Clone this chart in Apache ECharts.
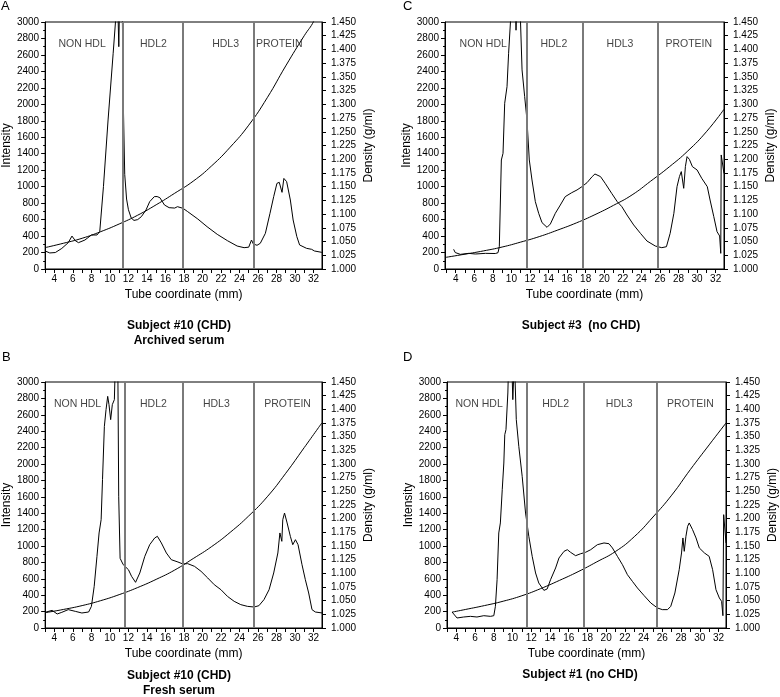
<!DOCTYPE html>
<html><head><meta charset="utf-8">
<script src="https://cdn.jsdelivr.net/npm/echarts@6/dist/echarts.min.js"></script>
<style>html,body{margin:0;padding:0;background:#fff}#c{width:780px;height:697px}</style>
</head><body><div id="c"></div>
<script>
// ---------- Panel A: Subject #10 (CHD), archived serum ----------
const aX = [3.0,3.5,4.1,4.8,5.5,5.9,6.25,6.6,7.3,8.0,8.6,8.9,9.3,9.8,10.35,10.6,10.75,10.85,10.96,11.05,11.2,11.32,11.45,11.6,11.8,12.0,12.3,12.6,13.0,13.4,13.9,14.3,14.8,15.1,15.4,15.9,16.4,17.0,17.3,17.9,18.4,19.5,20.5,21.6,22.7,23.75,24.5,25.0,25.3,25.5,25.9,26.25,26.8,27.3,27.7,28.05,28.3,28.6,28.8,29.1,29.5,29.8,30.2,30.5,31.25,31.8,32.0,32.1,32.9];
const aI = [219,195,200,250,320,400,345,320,352,413,413,453,1000,1810,2620,3000,3300,3200,2700,3300,3300,3300,2000,1150,850,720,620,590,600,636,717,818,879,880,866,777,745,740,757,737,697,607,514,421,344,279,259,265,352,304,288,312,433,676,879,1040,1053,931,1100,1061,838,595,393,292,251,239,263,219,202];
const aDX = [3,5,7,9,11,13,15,17,19,21,23,25,27,29,31,32.05,33];
const aD  = [1.039,1.047,1.056,1.068,1.082,1.098,1.117,1.138,1.160,1.188,1.222,1.262,1.312,1.370,1.425,1.452,1.49];
const aLines = [11.44,17.88,25.57];
const aLabelX = [7.0,14.7,22.5,28.3];

// ---------- Panel B: Subject #10 (CHD), fresh serum ----------
const bX = [3.0,3.75,4.3,4.8,5.5,6.26,6.97,7.7,8.0,8.3,8.6,8.83,9.05,9.2,9.4,9.58,9.76,9.9,10.08,10.26,10.48,10.6,10.85,10.95,11.1,11.44,12.0,12.34,12.77,13.23,13.77,14.3,14.84,15.13,15.56,16.1,16.63,17.35,17.9,18.4,19.14,19.85,20.57,21.28,22.0,22.7,23.43,24.14,24.86,25.58,26.1,26.65,27.2,27.7,28.15,28.37,28.58,28.68,28.87,29.15,29.5,29.76,30.05,30.33,30.76,31.12,31.48,31.84,32.2,32.95];
const bI = [191,215,171,191,224,203,183,195,264,508,874,1159,1321,1809,2459,2663,2825,2724,2541,2724,2785,3300,3300,1600,850,772,711,630,557,671,874,1016,1098,1118,1037,915,833,805,780,785,752,691,610,528,467,386,325,285,264,256,272,346,467,671,915,1159,1057,1321,1402,1281,1118,1016,1077,1016,772,589,427,224,195,183];
const bDX = [3,5,7,9,11,13,15,17,19,21,23,25,27,29,31,32.9];
const bD  = [1.028,1.034,1.041,1.050,1.061,1.074,1.089,1.106,1.127,1.149,1.175,1.205,1.240,1.283,1.330,1.375];
const bLines = [11.55,17.88,25.5];
const bLabelX = [6.5,14.7,21.5,29.2];

// ---------- Panel C: Subject #3 (no CHD) ----------
const cX = [3.78,3.95,4.14,4.5,5.4,6.12,7.2,8.27,8.56,8.7,8.92,9.1,9.28,9.53,9.7,9.9,10.1,10.42,10.5,10.6,10.9,11.1,11.15,11.43,11.68,11.93,12.22,12.58,12.94,13.3,13.84,14.2,14.73,15.27,15.8,16.5,17.07,17.6,18.15,18.7,19.0,19.6,20.1,20.8,21.4,21.9,22.45,23.17,23.9,24.6,25.5,26.2,26.7,27.1,27.5,27.84,28.1,28.3,28.56,28.74,28.92,29.17,29.5,30.0,30.5,31.1,31.4,31.8,32.15,32.43,32.55,32.6,32.9];
const cI = [239,200,190,178,190,182,190,188,198,271,1324,1405,2013,2215,2620,3000,3300,3300,2900,3300,3300,3300,2418,2094,1810,1324,1081,818,676,563,506,547,676,777,879,927,960,1000,1049,1122,1154,1122,1041,919,818,757,656,535,433,340,279,259,271,433,676,1000,1122,1183,980,1243,1365,1332,1243,1203,1102,1000,838,636,453,401,190,1385,1160];
const cDX = [2.85,5,7,9,11,13,15,17,19,21,23,25,27,29,31,32.9];
const cD  = [1.021,1.027,1.033,1.040,1.049,1.059,1.071,1.084,1.099,1.116,1.135,1.160,1.186,1.215,1.250,1.291];
const cLines = [11.7,17.72,25.72];
const cLabelX = [6.97,14.57,21.7,29.1];

// ---------- Panel D: Subject #1 (no CHD) ----------
const dX = [3.54,4.07,4.78,5.5,6.2,6.93,7.64,8.0,8.17,8.35,8.53,8.7,8.9,9.07,9.17,9.3,9.5,9.6,9.9,10.03,10.2,10.3,10.4,10.67,11.03,11.39,11.74,12.1,12.46,12.8,13.35,13.7,14.06,14.6,14.96,15.5,15.85,16.2,16.74,17.28,17.8,18.35,19.06,19.77,20.3,20.67,21.2,21.74,22.27,22.8,23.34,24.06,24.77,25.48,26.0,26.55,26.9,27.34,27.8,28.05,28.2,28.34,28.52,28.7,28.87,29.23,29.6,29.95,30.5,31.0,31.37,31.73,32.09,32.33,32.47,32.55,32.8];
const dI = [195,122,134,142,134,150,142,150,264,589,1159,1281,1687,2012,2358,2419,2866,3300,3300,2785,3300,3300,2541,2215,1850,1402,1118,874,671,549,459,476,589,732,854,935,955,923,882,906,923,955,1016,1037,1028,976,874,772,650,569,488,394,305,244,224,224,264,427,711,915,1098,935,1118,1240,1281,1199,1098,976,915,874,711,467,366,325,150,1382,1037];
const dDX = [3.54,5,7,9,11,13,15,17,19,21,23,25,27,29,31,32.8];
const dD  = [1.029,1.034,1.041,1.049,1.059,1.072,1.087,1.103,1.121,1.140,1.167,1.203,1.243,1.290,1.335,1.375];
const dLines = [11.49,17.56,25.41];
const dLabelX = [6.43,14.6,21.4,29.0];

const regionNames = ['NON HDL','HDL2','HDL3','PROTEIN'];
const regionLabelY = 2730;
const xTickVals = [3,4,5,6,7,8,9,10,11,12,13,14,15,16,17,18,19,20,21,22,23,24,25,26,27,28,29,30,31,32,33];
const xLabelVals = [4,6,8,10,12,14,16,18,20,22,24,26,28,30,32];

const panels = [
  {x:aX,i:aI,dx:aDX,d:aD,lines:aLines,lx:aLabelX,xmin:3,xmax:32.92,grid:{left:43,top:22,width:279,height:247}},
  {x:cX,i:cI,dx:cDX,d:cD,lines:cLines,lx:cLabelX,xmin:2.85,xmax:32.9,grid:{left:445,top:22,width:279,height:247}},
  {x:bX,i:bI,dx:bDX,d:bD,lines:bLines,lx:bLabelX,xmin:3,xmax:32.92,grid:{left:43,top:382,width:279,height:246}},
  {x:dX,i:dI,dx:dDX,d:dD,lines:dLines,lx:dLabelX,xmin:3,xmax:32.8,grid:{left:447,top:382,width:279,height:246}}
];

const FONT = 'Liberation Sans, Arial, sans-serif';
const zip = (a,b) => a.map((v,k)=>[v,b[k]]);

const grid=[], xAxis=[], yAxis=[], series=[];
panels.forEach((p,g)=>{
  grid.push(Object.assign({show:true,borderColor:'#000',borderWidth:1,containLabel:false},p.grid));
  xAxis.push({
    gridIndex:g,type:'value',min:p.xmin,max:p.xmax,
    name:'Tube coordinate (mm)',nameLocation:'middle',nameGap:20,
    nameTextStyle:{fontFamily:FONT,fontSize:12,color:'#000'},
    axisLine:{show:true,lineStyle:{color:'#000',width:1}},
    axisTick:{show:true,customValues:xTickVals.filter(v=>v>=p.xmin&&v<=p.xmax),length:4,lineStyle:{color:'#000'}},
    axisLabel:{customValues:xLabelVals,fontFamily:FONT,fontSize:10,color:'#000',margin:5},
    splitLine:{show:false}
  });
  yAxis.push({
    gridIndex:g,type:'value',min:0,max:3000,interval:200,position:'left',
    name:'Intensity',nameLocation:'middle',nameGap:30,
    nameTextStyle:{fontFamily:FONT,fontSize:12,color:'#000'},
    axisLine:{show:true,lineStyle:{color:'#000',width:1}},
    axisTick:{show:true,length:4,lineStyle:{color:'#000'}},
    minorTick:{show:true,splitNumber:2,length:2,lineStyle:{color:'#000'}},
    axisLabel:{fontFamily:FONT,fontSize:10,color:'#000',margin:6,formatter:v=>String(v)},
    splitLine:{show:false}
  });
  yAxis.push({
    gridIndex:g,type:'value',min:1,max:1.45,interval:0.025,position:'right',
    name:'Density (g/ml)',nameLocation:'middle',nameGap:41,
    nameTextStyle:{fontFamily:FONT,fontSize:12,color:'#000'},
    axisLine:{show:true,lineStyle:{color:'#000',width:1}},
    axisTick:{show:true,length:4,lineStyle:{color:'#000'}},
    axisLabel:{fontFamily:FONT,fontSize:10,color:'#000',margin:9,formatter:v=>v.toFixed(3)},
    splitLine:{show:false}
  });
  series.push({
    type:'line',xAxisIndex:g,yAxisIndex:2*g,data:zip(p.x,p.i),
    showSymbol:false,symbol:'none',lineStyle:{color:'#000',width:1},clip:true,z:3,
    markLine:{silent:true,symbol:'none',label:{show:false},
      lineStyle:{color:'#7a7a7a',width:2,type:'solid'},
      data:p.lines.map(v=>({xAxis:v}))}
  });
  series.push({
    type:'line',xAxisIndex:g,yAxisIndex:2*g+1,data:zip(p.dx,p.d),smooth:true,
    showSymbol:false,symbol:'none',lineStyle:{color:'#000',width:1},clip:true,z:4
  });
  series.push({
    type:'scatter',xAxisIndex:g,yAxisIndex:2*g,symbolSize:0,silent:true,z:5,
    data:p.lx.map((v,k)=>({name:regionNames[k],value:[v,regionLabelY]})),
    label:{show:true,position:'inside',formatter:'{b}',fontFamily:FONT,fontSize:10.5,color:'#111'}
  });
});

const tStyle = {fontFamily:FONT,fontSize:12,fontWeight:'bold',color:'#000',lineHeight:15};
const lStyle = {fontFamily:FONT,fontSize:13,fontWeight:'normal',color:'#000'};
const title = [
  {text:'A',left:1,top:0,textStyle:lStyle,padding:0},
  {text:'C',left:403,top:0,textStyle:lStyle,padding:0},
  {text:'B',left:2,top:351,textStyle:lStyle,padding:0},
  {text:'D',left:403,top:351,textStyle:lStyle,padding:0},
  {text:'Subject #10 (CHD)\nArchived serum',left:179,top:318,textAlign:'center',textStyle:Object.assign({align:'center'},tStyle),padding:0},
  {text:'Subject #3  (no CHD)',left:581,top:318,textAlign:'center',textStyle:tStyle,padding:0},
  {text:'Subject #10 (CHD)\nFresh serum',left:179,top:668,textAlign:'center',textStyle:Object.assign({align:'center'},tStyle),padding:0},
  {text:'Subject #1 (no CHD)',left:580,top:667,textAlign:'center',textStyle:tStyle,padding:0}
];

const chart = echarts.init(document.getElementById('c'),null,{renderer:'canvas'});
chart.setOption({animation:false,backgroundColor:'#fff',title,grid,xAxis,yAxis,series});
</script></body></html>
